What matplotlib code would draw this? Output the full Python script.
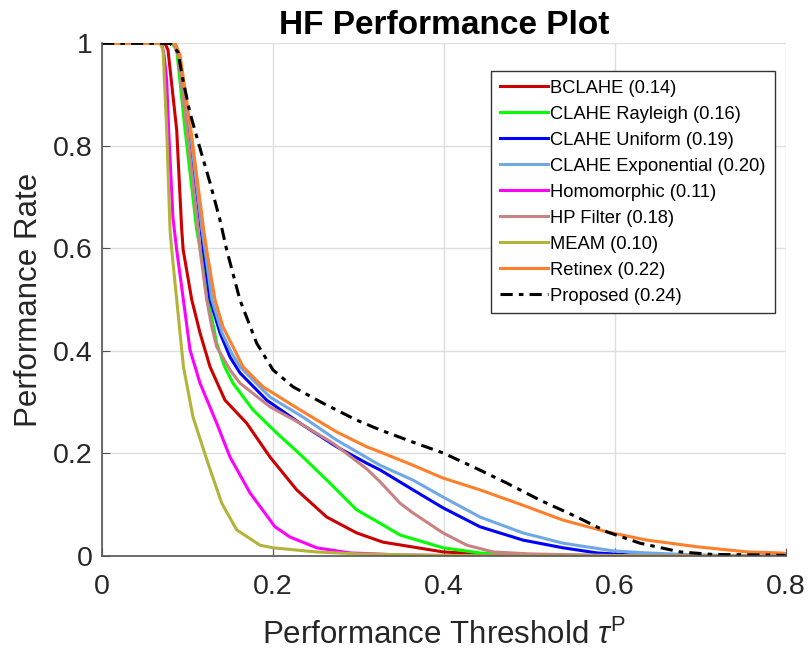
import numpy as np
import matplotlib
matplotlib.use('Agg')
import matplotlib.pyplot as plt

plt.rcParams['font.family'] = ['Liberation Sans', 'DejaVu Sans']
plt.rcParams['mathtext.fontset'] = 'custom'
plt.rcParams['mathtext.rm'] = 'Liberation Sans'
plt.rcParams['mathtext.it'] = 'Liberation Sans:italic'

# ---- data ----
bclahe_x = [0, 0.0737, 0.0772, 0.0874, 0.0933, 0.095, 0.105, 0.1147, 0.1264, 0.1439, 0.1693,
            0.1966, 0.2278, 0.2629, 0.298, 0.3288, 0.399, 0.4423, 0.5, 0.6, 0.8]
bclahe_y = [1.0, 1.0, 0.987, 0.831, 0.636, 0.597, 0.5, 0.435, 0.369, 0.304, 0.259,
            0.193, 0.129, 0.076, 0.045, 0.027, 0.008, 0.004, 0.002, 0.0, 0.0]

rayleigh_x = [0, 0.082, 0.0874, 0.0972, 0.1108, 0.1186, 0.1244, 0.1342, 0.1433, 0.1533, 0.1767,
              0.2044, 0.2352, 0.2668, 0.298, 0.3253, 0.3487, 0.399, 0.4423, 0.4809, 0.6, 0.8]
rayleigh_y = [1.0, 1.0, 0.987, 0.831, 0.636, 0.564, 0.5, 0.415, 0.37, 0.337, 0.285,
              0.24, 0.193, 0.142, 0.09, 0.064, 0.041, 0.016, 0.006, 0.002, 0.001, 0.0]

uniform_x = [0, 0.0854, 0.09, 0.102, 0.116, 0.1186, 0.1264, 0.1381, 0.1498, 0.1615, 0.1927,
             0.2317, 0.2746, 0.3097, 0.3253, 0.3639, 0.399, 0.4423, 0.4926, 0.5394, 0.5792,
             0.6178, 0.6763, 0.8]
uniform_y = [1.0, 1.0, 0.977, 0.831, 0.636, 0.597, 0.5, 0.435, 0.388, 0.357, 0.304,
             0.259, 0.213, 0.181, 0.168, 0.129, 0.094, 0.057, 0.031, 0.016, 0.006,
             0.002, 0.001, 0.0]

expo_x = [0, 0.0854, 0.09, 0.103, 0.117, 0.1205, 0.1285, 0.1405, 0.152, 0.1615, 0.1966,
          0.2352, 0.2746, 0.3253, 0.3639, 0.399, 0.4423, 0.4926, 0.5394, 0.598, 0.6377,
          0.6962, 0.8]
expo_y = [1.0, 1.0, 0.98, 0.831, 0.636, 0.597, 0.5, 0.435, 0.395, 0.369, 0.31,
          0.271, 0.226, 0.177, 0.148, 0.115, 0.076, 0.045, 0.025, 0.01, 0.006,
          0.002, 0.0]

homo_x = [0, 0.070, 0.0726, 0.0757, 0.078, 0.083, 0.0874, 0.0952, 0.103, 0.1147, 0.1342,
          0.1498, 0.1732, 0.2024, 0.22, 0.2512, 0.2902, 0.35, 0.4, 0.8]
homo_y = [1.0, 1.0, 0.977, 0.928, 0.83, 0.66, 0.597, 0.5, 0.402, 0.337, 0.259,
          0.193, 0.123, 0.057, 0.037, 0.016, 0.006, 0.002, 0.001, 0.0]

hp_x = [0, 0.084, 0.089, 0.0995, 0.1125, 0.1147, 0.1225, 0.1284, 0.1342, 0.1498, 0.1615,
        0.1966, 0.2317, 0.2703, 0.3097, 0.3253, 0.3487, 0.3639, 0.399, 0.4271, 0.4575,
        0.5008, 0.6, 0.8]
hp_y = [1.0, 1.0, 0.977, 0.831, 0.636, 0.597, 0.5, 0.447, 0.408, 0.363, 0.337,
        0.291, 0.259, 0.22, 0.17, 0.145, 0.103, 0.084, 0.045, 0.021, 0.008,
        0.004, 0.001, 0.0]

meam_x = [0, 0.068, 0.0714, 0.0757, 0.0796, 0.0816, 0.0874, 0.0913, 0.0953, 0.1065, 0.124,
          0.1401, 0.1576, 0.1849, 0.2, 0.25, 0.3, 0.4, 0.5, 0.8]
meam_y = [1.0, 1.0, 0.987, 0.831, 0.636, 0.597, 0.5, 0.435, 0.369, 0.271, 0.181,
          0.103, 0.051, 0.021, 0.016, 0.008, 0.004, 0.001, 0.0, 0.0]

retinex_x = [0, 0.0854, 0.0913, 0.104, 0.119, 0.1225, 0.1322, 0.1416, 0.165, 0.1884, 0.2317,
             0.2746, 0.3097, 0.3253, 0.3639, 0.399, 0.4423, 0.4926, 0.5394, 0.5909, 0.6377,
             0.6962, 0.7547, 0.7933, 0.8]
retinex_y = [1.0, 1.0, 0.977, 0.831, 0.636, 0.597, 0.5, 0.447, 0.369, 0.33, 0.285,
             0.242, 0.213, 0.203, 0.177, 0.152, 0.129, 0.099, 0.07, 0.047, 0.031,
             0.018, 0.008, 0.006, 0.005]

prop_x = [0, 0.0796, 0.0889, 0.0948, 0.103, 0.1147, 0.1264, 0.1381, 0.1459, 0.1615, 0.181,
          0.2001, 0.2235, 0.2586, 0.298, 0.3253, 0.3639, 0.399, 0.4341, 0.4739, 0.5125,
          0.5558, 0.5909, 0.6295, 0.6763, 0.7149, 0.78, 0.8]
prop_y = [1.0, 1.0, 0.983, 0.928, 0.864, 0.795, 0.728, 0.655, 0.597, 0.499, 0.415,
          0.363, 0.33, 0.298, 0.265, 0.246, 0.222, 0.201, 0.174, 0.142, 0.109,
          0.076, 0.047, 0.025, 0.008, 0.003, 0.002, 0.001]

series = [
    (bclahe_x, bclahe_y, 'BCLAHE (0.14)', '#CC0000', '-'),
    (rayleigh_x, rayleigh_y, 'CLAHE Rayleigh (0.16)', '#00FF00', '-'),
    (uniform_x, uniform_y, 'CLAHE Uniform (0.19)', '#0000FF', '-'),
    (expo_x, expo_y, 'CLAHE Exponential (0.20)', '#6FA8E6', '-'),
    (homo_x, homo_y, 'Homomorphic (0.11)', '#FF00FF', '-'),
    (hp_x, hp_y, 'HP Filter (0.18)', '#C98282', '-'),
    (meam_x, meam_y, 'MEAM (0.10)', '#B3B33A', '-'),
    (retinex_x, retinex_y, 'Retinex (0.22)', '#FF7F2A', '-'),
    (prop_x, prop_y, 'Proposed (0.24)', 'black', (0, (4, 2, 1.5, 2))),
]

fig = plt.figure(figsize=(8.1, 6.55), dpi=100)
ax = fig.add_axes([102 / 810, 1 - 556 / 655, 683.7 / 810, 512.7 / 655])

for xs, ys, lab, col, ls in series:
    ax.plot(xs, ys, color=col, linestyle=ls, linewidth=2.2, label=lab)

ax.set_xlim(0, 0.8)
ax.set_ylim(0, 1)
ax.set_xticks([0, 0.2, 0.4, 0.6, 0.8])
ax.set_xticklabels(['0', '0.2', '0.4', '0.6', '0.8'])
ax.set_yticks([0, 0.2, 0.4, 0.6, 0.8, 1])
ax.set_yticklabels(['0', '0.2', '0.4', '0.6', '0.8', '1'])
ax.grid(True, color='#DEDEDE', linewidth=1)
ax.set_axisbelow(True)
for s in ['top', 'right']:
    ax.spines[s].set_visible(False)
for s in ['left', 'bottom']:
    ax.spines[s].set_color('#555555')
    ax.spines[s].set_linewidth(1.2)
ax.tick_params(direction='in', length=6, color='#555555', labelsize=20.5, labelcolor='#262626')
ax.tick_params(axis='x', pad=13)
ax.tick_params(axis='y', pad=7)

ax.set_title('HF Performance Plot', fontsize=24, fontweight='bold', pad=7)
ax.set_xlabel(r'Performance Threshold $\tau^{\mathrm{P}}$', fontsize=22.5, color='#262626', labelpad=14)
ax.set_ylabel('Performance Rate', fontsize=22.5, color='#262626', labelpad=6)

leg = ax.legend(loc='upper right', bbox_to_anchor=(0.984, 0.946), borderaxespad=0,
                fontsize=13.2, frameon=True, fancybox=False, handlelength=2.6,
                handletextpad=0.16, labelspacing=0.49, borderpad=0.48)
leg.get_frame().set_edgecolor('#333333')
leg.get_frame().set_linewidth(1.0)
leg.get_frame().set_alpha(1)

fig.savefig('out.png', dpi=100)
